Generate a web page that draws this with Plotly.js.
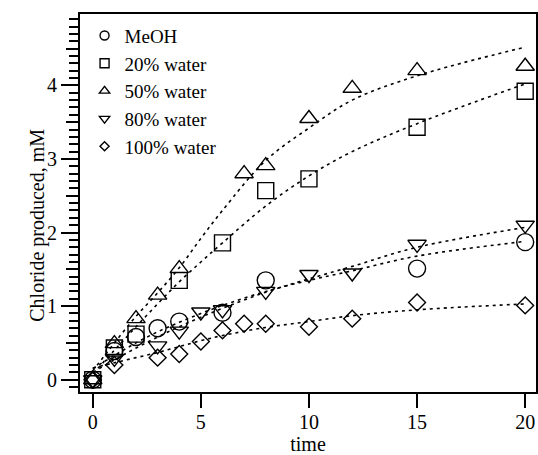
<!DOCTYPE html>
<html>
<head>
<meta charset="utf-8">
<script src="https://cdn.plot.ly/plotly-3.0.1.min.js"></script>
<style>html,body{margin:0;padding:0;background:#fff}#chart{width:538px;height:455px}</style>
</head>
<body>
<div id="chart"></div>
<script>
// Measured data
const timeMeOH = [0, 1, 2, 3, 4, 6, 8, 15, 20];
const meoh     = [0, 0.39, 0.58, 0.70, 0.79, 0.91, 1.35, 1.51, 1.87];
const time20   = [0, 1, 2, 4, 6, 8, 10, 15, 20];
const water20  = [0, 0.43, 0.62, 1.35, 1.86, 2.57, 2.73, 3.43, 3.92];
const time50   = [0, 1, 2, 3, 4, 7, 8, 10, 12, 15, 20];
const water50  = [0, 0.49, 0.83, 1.15, 1.51, 2.80, 2.91, 3.55, 3.96, 4.20, 4.26];
const time80   = [0, 1, 3, 4, 5, 6, 8, 10, 12, 15, 20];
const water80  = [0, 0.29, 0.46, 0.66, 0.92, 0.95, 1.20, 1.43, 1.45, 1.84, 2.10];
const time100  = [0, 1, 3, 4, 5, 6, 7, 8, 10, 12, 15, 20];
const water100 = [0, 0.20, 0.30, 0.35, 0.52, 0.67, 0.76, 0.76, 0.72, 0.83, 1.05, 1.01];

// Fit curves at these times
const fitTime     = [0, 1, 2, 3, 4, 5, 6, 8, 10, 12, 15, 20];
const fitMeOH     = [0.15, 0.33, 0.50, 0.65, 0.78, 0.90, 1.01, 1.20, 1.35, 1.48, 1.68, 1.88];
const fitWater20  = [0.08, 0.40, 0.72, 1.03, 1.33, 1.60, 1.86, 2.36, 2.77, 3.10, 3.48, 4.02];
const fitWater50  = [0.12, 0.50, 0.86, 1.18, 1.52, 1.92, 2.30, 2.98, 3.42, 3.80, 4.13, 4.52];
const fitWater80  = [0.10, 0.27, 0.43, 0.58, 0.72, 0.85, 0.97, 1.19, 1.37, 1.54, 1.80, 2.07];
const fitWater100 = [0.16, 0.23, 0.30, 0.37, 0.45, 0.53, 0.60, 0.71, 0.79, 0.87, 0.95, 1.03];

const seriesNames = ['MeOH', '20% water', '50% water', '80% water', '100% water'];
const yTitle = 'Chloride produced, mM';
const xTitle = 'time';
const symbols = ['circle-open', 'square-open', 'triangle-up-open', 'triangle-down-open', 'diamond-open'];
const sizes = [17, 16, 16, 16, 13];
const legendSizes = [9, 9, 9, 9, 7];
const xs = [timeMeOH, time20, time50, time80, time100];
const ys = [meoh, water20, water50, water80, water100];
const fits = [fitMeOH, fitWater20, fitWater50, fitWater80, fitWater100];

const FONT = 'Liberation Serif, Times New Roman, serif';
const traces = [];
fits.forEach(f => traces.push({
  x: fitTime, y: f, mode: 'lines', showlegend: false, hoverinfo: 'skip',
  line: {color: 'black', width: 1.6, dash: '3px,4px', shape: 'spline'}
}));
for (let i = 0; i < 5; i++) {
  traces.push({
    x: xs[i], y: ys[i], mode: 'markers', showlegend: false,
    marker: {symbol: symbols[i], size: sizes[i], color: 'black', line: {color: 'black', width: 1.4}}
  });
}
for (let i = 0; i < 5; i++) {
  traces.push({
    x: [null], y: [null], mode: 'markers', name: seriesNames[i],
    marker: {symbol: symbols[i], size: legendSizes[i], color: 'black', line: {color: 'black', width: 1.4}}
  });
}
// overlay axis for the half-unit ticks
traces.push({x: [null], y: [null], yaxis: 'y2', showlegend: false, hoverinfo: 'skip', mode: 'markers'});

const yRange = [-0.167, 4.97];
const layout = {
  width: 538, height: 455,
  margin: {l: 80, r: 2, t: 14, b: 63},
  paper_bgcolor: 'white', plot_bgcolor: 'white',
  font: {family: FONT, size: 20, color: 'black'},
  showlegend: true,
  legend: {x: 0.01, y: 0.993, xanchor: 'left', yanchor: 'top', bgcolor: 'rgba(0,0,0,0)',
           font: {family: FONT, size: 19, color: 'black'}},
  xaxis: {
    range: [-0.59, 20.5], tickmode: 'linear', tick0: 0, dtick: 5,
    ticks: 'outside', ticklen: 14, tickwidth: 2, tickcolor: 'black',
    ticklabelstandoff: -3,
    showline: true, linewidth: 2, linecolor: 'black', mirror: true,
    showgrid: false, zeroline: false,
    tickfont: {family: FONT, size: 20, color: 'black'},
    title: {text: xTitle, font: {family: FONT, size: 20, color: 'black'}, standoff: 4}
  },
  yaxis: {
    range: yRange, tickmode: 'linear', tick0: 0, dtick: 1,
    ticks: 'outside', ticklen: 17, tickwidth: 2, tickcolor: 'black',
    minor: {dtick: 0.1, tick0: 0, ticks: 'outside', ticklen: 9, tickwidth: 2, tickcolor: 'black', showgrid: false},
    showline: true, linewidth: 2, linecolor: 'black', mirror: true,
    showgrid: false, zeroline: false,
    tickfont: {family: FONT, size: 20, color: 'black'}
  },
  yaxis2: {
    overlaying: 'y', side: 'left', anchor: 'x', range: yRange,
    tickmode: 'array', tickvals: [0.5, 1.5, 2.5, 3.5, 4.5],
    ticks: 'outside', ticklen: 13, tickwidth: 2, tickcolor: 'black',
    showticklabels: false, showline: false, showgrid: false, zeroline: false
  },
  annotations: [{
    text: yTitle, xref: 'paper', yref: 'paper', x: -0.092, y: 0.44,
    xanchor: 'center', yanchor: 'middle', textangle: -90, showarrow: false,
    font: {family: FONT, size: 20, color: 'black'}
  }]
};
Plotly.newPlot('chart', traces, layout, {staticPlot: true, displayModeBar: false});
</script>
</body>
</html>
